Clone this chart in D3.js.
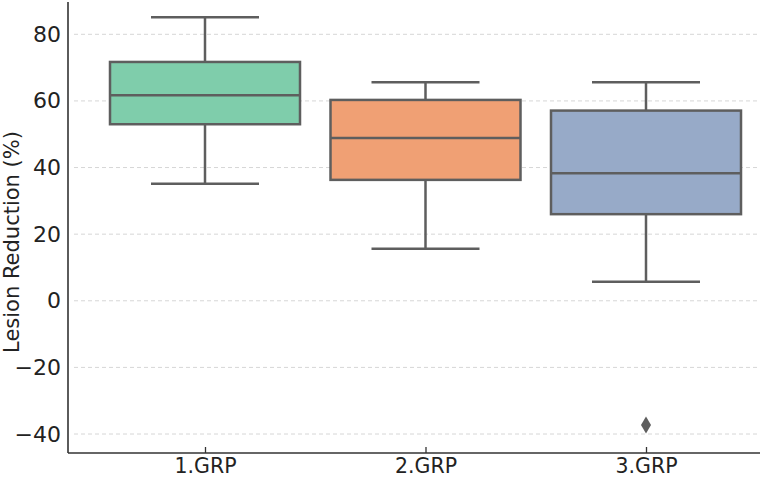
<!DOCTYPE html>
<html>
<head>
<meta charset="utf-8">
<script src="https://cdn.jsdelivr.net/npm/d3@7"></script>
<style>
  body { margin: 0; background: #fff; }
  svg { display: block; font-family: "DejaVu Sans", sans-serif; }
</style>
</head>
<body>
<div id="chart"></div>
<script>
// data
const groups = ["1.GRP", "2.GRP", "3.GRP"];
const whiskerHigh = [85.1, 65.6, 65.6];
const q3 = [71.7, 60.3, 57.1];
const medians = [61.7, 48.9, 38.3];
const q1 = [53.0, 36.3, 26.0];
const whiskerLow = [35.1, 15.6, 5.7];
const outliers = [[], [], [-37.3]];
const yTicks = [-40, -20, 0, 20, 40, 60, 80];
const colors = ["#7fcdab", "#f0a074", "#97aac8"];

const width = 762, height = 481;
const plotLeft = 68, plotRight = 760, plotTop = 0, plotBottom = 453;

const svg = d3.select("#chart").append("svg")
  .attr("width", width)
  .attr("height", height);

const y = d3.scaleLinear().domain([-45.7, 90.3]).range([plotBottom, plotTop]);
const x = d3.scalePoint().domain(groups).range([205, 646]);

// gridlines
svg.append("g")
  .selectAll("line")
  .data(yTicks)
  .enter()
  .append("line")
  .attr("x1", plotLeft + 6)
  .attr("x2", plotRight)
  .attr("y1", d => y(d))
  .attr("y2", d => y(d))
  .attr("stroke", "#d6d6d6")
  .attr("stroke-width", 1)
  .attr("stroke-dasharray", "4,3");

// y axis labels
const yAxis = svg.append("g")
  .attr("transform", `translate(${plotLeft},0)`)
  .call(d3.axisLeft(y).tickValues(yTicks).tickSize(0).tickPadding(7)
    .tickFormat(d => d < 0 ? "\u2212" + Math.abs(d) : d));
yAxis.select(".domain").remove();
yAxis.selectAll("text")
  .attr("font-size", 22)
  .attr("fill", "#222")
  .attr("font-family", "DejaVu Sans");

// x axis
const xAxis = svg.append("g")
  .attr("transform", `translate(0,${plotBottom})`)
  .call(d3.axisBottom(x).tickSize(-6).tickPadding(5));
xAxis.select(".domain").remove();
xAxis.selectAll("line").attr("stroke", "#333").attr("stroke-width", 1.3);
xAxis.selectAll("text")
  .attr("font-size", 20.5)
  .attr("fill", "#222")
  .attr("font-family", "DejaVu Sans");

// spines
svg.append("line")
  .attr("x1", plotLeft).attr("x2", plotLeft)
  .attr("y1", plotTop + 2).attr("y2", plotBottom)
  .attr("stroke", "#333").attr("stroke-width", 1.6);
svg.append("line")
  .attr("x1", plotLeft).attr("x2", plotRight)
  .attr("y1", plotBottom).attr("y2", plotBottom)
  .attr("stroke", "#333").attr("stroke-width", 1.6);

// y label
svg.append("text")
  .attr("transform", "translate(19,242) rotate(-90)")
  .attr("text-anchor", "middle")
  .attr("font-size", 21)
  .attr("fill", "#222")
  .text("Lesion Reduction (%)");

// boxes
const boxW = 190, capW = 108;
const lineColor = "#5e5e5e";
const boxes = svg.append("g");
groups.forEach((g, i) => {
  const cx = x(g);
  const bg = boxes.append("g");
  // whiskers
  bg.append("line")
    .attr("x1", cx).attr("x2", cx)
    .attr("y1", y(whiskerHigh[i])).attr("y2", y(q3[i]))
    .attr("stroke", lineColor).attr("stroke-width", 2.5);
  bg.append("line")
    .attr("x1", cx).attr("x2", cx)
    .attr("y1", y(q1[i])).attr("y2", y(whiskerLow[i]))
    .attr("stroke", lineColor).attr("stroke-width", 2.5);
  // caps
  [whiskerHigh[i], whiskerLow[i]].forEach(v => {
    bg.append("line")
      .attr("x1", cx - capW / 2).attr("x2", cx + capW / 2)
      .attr("y1", y(v)).attr("y2", y(v))
      .attr("stroke", lineColor).attr("stroke-width", 2.5);
  });
  // box
  bg.append("rect")
    .attr("x", cx - boxW / 2)
    .attr("y", y(q3[i]))
    .attr("width", boxW)
    .attr("height", y(q1[i]) - y(q3[i]))
    .attr("fill", colors[i])
    .attr("stroke", lineColor)
    .attr("stroke-width", 2.5);
  // median
  bg.append("line")
    .attr("x1", cx - boxW / 2).attr("x2", cx + boxW / 2)
    .attr("y1", y(medians[i])).attr("y2", y(medians[i]))
    .attr("stroke", lineColor).attr("stroke-width", 2.5);
  // outliers (thin diamond)
  outliers[i].forEach(v => {
    const oy = y(v);
    bg.append("path")
      .attr("d", `M${cx},${oy - 8.5}L${cx + 5},${oy}L${cx},${oy + 8.5}L${cx - 5},${oy}Z`)
      .attr("fill", "#5e5e5e");
  });
});
</script>
</body>
</html>
